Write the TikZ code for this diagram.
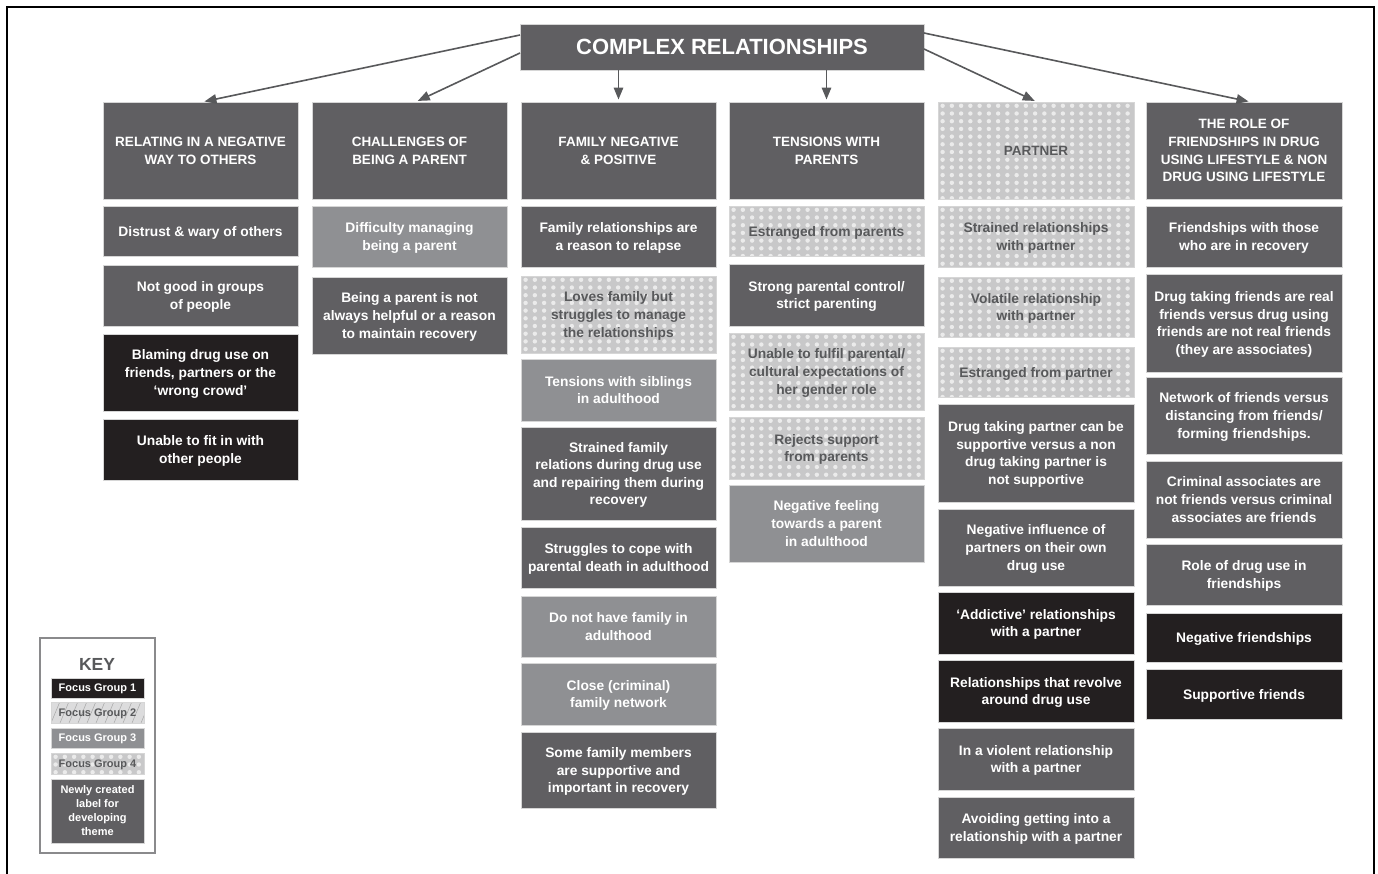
\documentclass[tikz,border=0pt]{standalone}
\usepackage{fontspec}
\setmainfont{Liberation Sans}
\usetikzlibrary{arrows.meta,calc}
\definecolor{fgone}{HTML}{231F20}
\definecolor{fgthree}{HTML}{8F9093}
\definecolor{fgfour}{HTML}{C8C8C9}
\definecolor{fgtwo}{HTML}{DCDCDD}
\definecolor{newl}{HTML}{605F62}
\definecolor{txtg}{HTML}{58595B}
\definecolor{arrc}{HTML}{58595B}
\definecolor{edgec}{HTML}{D6D6D6}
\definecolor{dotc}{HTML}{EBEBEB}
\definecolor{keyframe}{HTML}{8A8A8C}
\newcommand\bxfont{\fontsize{13.8}{17.6}\selectfont\bfseries}
\newcommand\hdfont{\fontsize{13.5}{17.8}\selectfont\bfseries}
\newcommand\ttlfont{\fontsize{22}{26}\selectfont\bfseries}
\newcommand\kyfont{\fontsize{11}{14}\selectfont\bfseries}
\tikzset{
  base/.style={inner sep=0pt, outer sep=0pt, align=center, font=\bxfont, text depth=-2pt, draw=edgec, line width=0.6pt},
  newbox/.style={base, fill=newl, text=white},
  fgonebox/.style={base, fill=fgone, text=white},
  fgthreebox/.style={base, fill=fgthree, text=white},
  fgfourbox/.style={base, fill=fgfour, text=txtg,
    path picture={\foreach \i in {0,...,21}{\foreach \j in {0,...,13}{
      \fill[dotc] ([xshift=\i*9.25pt+4.6pt, yshift=-\j*7.7pt-3.8pt]path picture bounding box.north west) circle[radius=2.2pt];}}}},
  fgtwobox/.style={base, fill=fgtwo, text=txtg,
    path picture={\foreach \i in {-2,...,12}{
      \draw[gray!70, line width=0.5pt] ([xshift=\i*9pt]path picture bounding box.south west) -- ++(10pt,24pt);}}},
  hdr/.style={font=\hdfont, text depth=-4pt},
  arr/.style={draw=arrc, line width=1.6pt, -{Triangle[length=12pt,width=9.5pt]}, shorten >=2.5pt},
}
\newcommand\cell[7]{\node[#2, minimum width={(#4-#3)*1pt}, minimum height={(#6-#5)*1pt}] (#1) at ({(#3+#4)/2},{(#5+#6)/2}) {#7};}
\begin{document}
\begin{tikzpicture}[x=1pt,y=-1pt]
\useasboundingbox (0,0) rectangle (1378,873);
\fill[white] (0,0) rectangle (1378,873);
\draw[black, line width=2pt] (7,7) rectangle (1374,880);

% title
\cell{title}{newbox, font=\ttlfont, text depth=-2pt}{520}{924}{24}{70}{COMPLEX RELATIONSHIPS}

% headers
\cell{h1}{newbox, hdr}{103}{298}{102}{199}{RELATING IN A NEGATIVE\\WAY TO OTHERS}
\cell{h2}{newbox, hdr}{312}{507}{102}{199}{CHALLENGES OF\\BEING A PARENT}
\cell{h3}{newbox, hdr}{521}{716}{102}{199}{FAMILY NEGATIVE\\\& POSITIVE}
\cell{h4}{newbox, hdr}{729}{924}{102}{199}{TENSIONS WITH\\PARENTS}
\cell{h5}{fgfourbox, hdr}{938}{1134}{102}{199}{PARTNER}
\cell{h6}{newbox, hdr}{1146}{1342}{102}{199}{THE ROLE OF\\FRIENDSHIPS IN DRUG\\USING LIFESTYLE \& NON\\DRUG USING LIFESTYLE}

% arrows
\draw[arr] ([yshift=12pt]title.west) -- ([xshift=1.5pt]h1.north);
\draw[arr] ([yshift=-6pt]title.west) -- ([xshift=6pt]h2.north);
\draw[arr] (h3.north |- title.south) -- (h3.north);
\draw[arr] (h4.north |- title.south) -- (h4.north);
\draw[arr] ([yshift=-2pt]title.east) -- ([xshift=1pt]h5.north);
\draw[arr] ([yshift=14pt]title.east) -- ([xshift=7pt]h6.north);

% column 1
\cell{a1}{newbox}{103}{298}{206}{256}{Distrust \& wary of others}
\cell{a2}{newbox}{103}{298}{265}{326}{Not good in groups\\of people}
\cell{a3}{fgonebox}{103}{298}{334}{411}{Blaming drug use on\\friends, partners or the\\‘wrong crowd’}
\cell{a4}{fgonebox}{103}{298}{419}{480}{Unable to fit in with\\other people}

% column 2
\cell{b1}{fgthreebox}{312}{507}{206}{267}{Difficulty managing\\being a parent}
\cell{b2}{newbox}{312}{507}{277}{354}{Being a parent is not\\always helpful or a reason\\to maintain recovery}

% column 3
\cell{c1}{newbox}{521}{716}{206}{267}{Family relationships are\\a reason to relapse}
\cell{c2}{fgfourbox}{521}{716}{276}{353}{Loves family but\\struggles to manage\\the relationships}
\cell{c3}{fgthreebox}{521}{716}{359}{421}{Tensions with siblings\\in adulthood}
\cell{c4}{newbox}{521}{716}{427}{520}{Strained family\\relations during drug use\\and repairing them during\\recovery}
\cell{c5}{newbox}{521}{716}{527}{588}{Struggles to cope with\\parental death in adulthood}
\cell{c6}{fgthreebox}{521}{716}{596}{657}{Do not have family in\\adulthood}
\cell{c7}{fgthreebox}{521}{716}{663}{725}{Close (criminal)\\family network}
\cell{c8}{newbox}{521}{716}{732}{808}{Some family members\\are supportive and\\important in recovery}

% column 4
\cell{d1}{fgfourbox}{729}{924}{206}{256}{Estranged from parents}
\cell{d2}{newbox}{729}{924}{264}{326}{Strong parental control/\\strict parenting}
\cell{d3}{fgfourbox}{729}{924}{333}{410}{Unable to fulfil parental/\\cultural expectations of\\her gender role}
\cell{d4}{fgfourbox}{729}{924}{417}{479}{Rejects support\\from parents}
\cell{d5}{fgthreebox}{729}{924}{485}{562}{Negative feeling\\towards a parent\\in adulthood}

% column 5
\cell{e1}{fgfourbox}{938}{1134}{206}{267}{Strained relationships\\with partner}
\cell{e2}{fgfourbox}{938}{1134}{277}{337}{Volatile relationship\\with partner}
\cell{e3}{fgfourbox}{938}{1134}{347}{397}{Estranged from partner}
\cell{e4}{newbox}{938}{1134}{404}{502}{Drug taking partner can be\\supportive versus a non\\drug taking partner is\\not supportive}
\cell{e5}{newbox}{938}{1134}{509}{586}{Negative influence of\\partners on their own\\drug use}
\cell{e6}{fgonebox}{938}{1134}{592}{654}{‘Addictive’ relationships\\with a partner}
\cell{e7}{fgonebox}{938}{1134}{660}{722}{Relationships that revolve\\around drug use}
\cell{e8}{newbox}{938}{1134}{728}{790}{In a violent relationship\\with a partner}
\cell{e9}{newbox}{938}{1134}{797}{858}{Avoiding getting into a\\relationship with a partner}

% column 6
\cell{f1}{newbox}{1146}{1342}{206}{267}{Friendships with those\\who are in recovery}
\cell{f2}{newbox}{1146}{1342}{274}{372}{Drug taking friends are real\\friends versus drug using\\friends are not real friends\\(they are associates)}
\cell{f3}{newbox}{1146}{1342}{377}{454}{Network of friends versus\\distancing from friends/\\forming friendships.}
\cell{f4}{newbox}{1146}{1342}{461}{538}{Criminal associates are\\not friends versus criminal\\associates are friends}
\cell{f5}{newbox}{1146}{1342}{544}{605}{Role of drug use in\\friendships}
\cell{f6}{fgonebox}{1146}{1342}{613}{662}{Negative friendships}
\cell{f7}{fgonebox}{1146}{1342}{669}{719}{Supportive friends}

% key
\draw[keyframe, line width=1.3pt] (40,638) rectangle (155,853);
\node[font=\fontsize{17.5}{20}\selectfont\bfseries, text=txtg, inner sep=0pt] (keytitle) at (97,664) {KEY};
\cell{k1}{fgonebox, font=\kyfont}{51}{144}{678}{698}{Focus Group 1}
\cell{k2}{fgtwobox, font=\kyfont}{51}{144}{702}{723}{Focus Group 2}
\cell{k3}{fgthreebox, font=\kyfont}{51}{144}{728}{748}{Focus Group 3}
\cell{k4}{fgfourbox, font=\kyfont}{51}{144}{753}{774}{Focus Group 4}
\cell{k5}{newbox, font=\kyfont}{51}{144}{779}{843}{Newly created\\label for\\developing\\theme}
\end{tikzpicture}
\end{document}
